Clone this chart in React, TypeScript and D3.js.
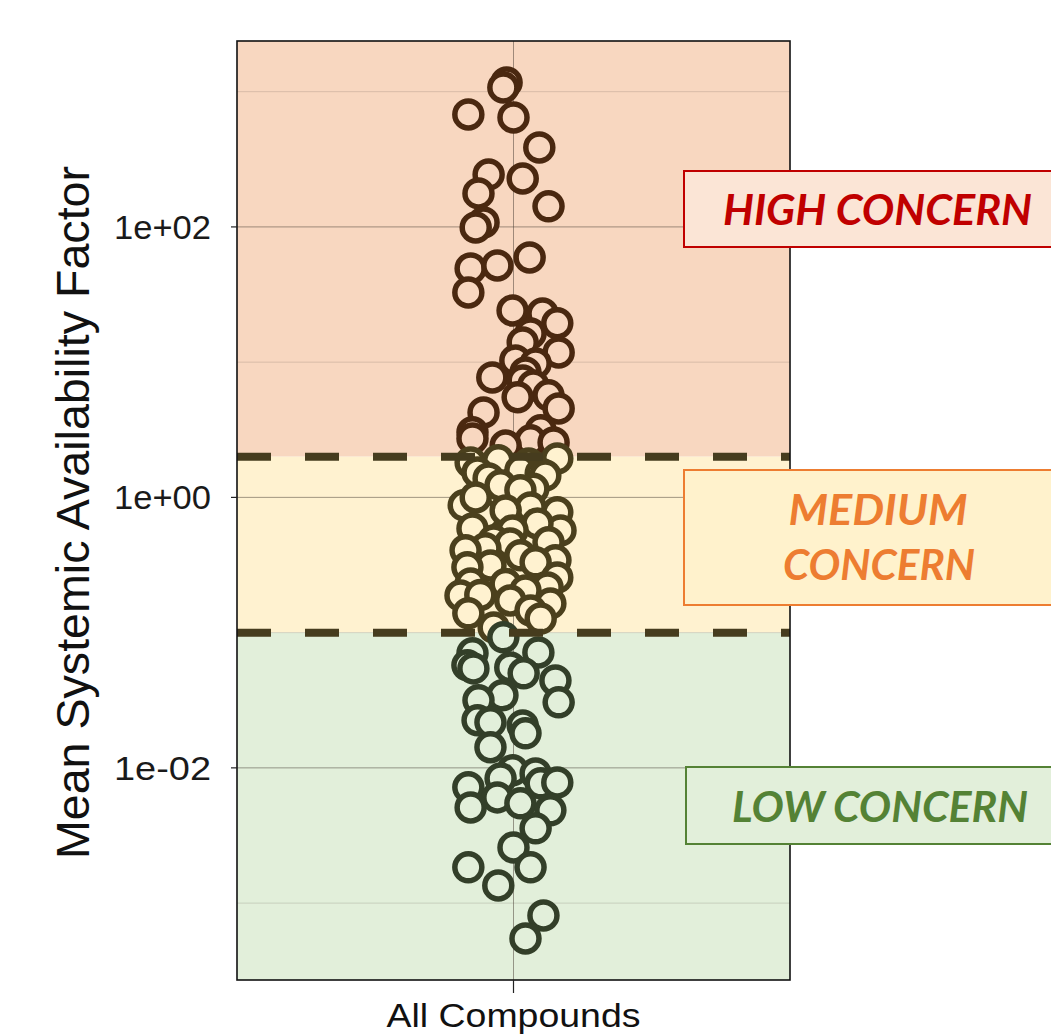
import React from 'react';
import * as d3 from 'd3';

// ---- data ----
const category = 'All Compounds';
const yTickValues = [1e-2, 1, 1e2];
const yTickLabels = ['1e-02', '1e+00', '1e+02'];
const yMinorValues = [1e-3, 1e-1, 1e1, 1e3];
const yDomain = [2.7e-4, 2370];
const thresholds = [0.1, 2];
const zoneLabels = ['HIGH CONCERN', 'MEDIUM CONCERN', 'LOW CONCERN'];

const pointValues = [
  // high
  1170, 1075, 679, 645, 387, 244, 228, 177, 142, 108, 99.1, 49.3, 51.9, 59.5, 32.8, 24.1, 22.9, 19.4,
  16.3, 14.0, 11.8, 10.3, 9.79, 8.4, 7.71, 7.33, 6.73, 5.68, 5.5, 4.55, 4.25, 3.03, 3.13, 2.64, 2.73,
  2.55, 2.42,
  // medium
  1.81, 1.88, 1.94, 1.78, 1.58, 1.53, 1.5, 1.45, 1.38, 1.23, 1.16, 1.13, 0.873, 0.736, 1.0, 0.843, 0.801,
  0.775, 0.57, 0.642, 0.59, 0.57, 0.481, 0.465, 0.457, 0.42, 0.406, 0.373, 0.343, 0.331, 0.314, 0.304,
  0.256, 0.231, 0.229, 0.216, 0.205, 0.188, 0.19, 0.173, 0.164, 0.146, 0.139, 0.127, 0.109,
  // low
  0.0923, 0.0703, 0.0714, 0.0573, 0.0544, 0.0553, 0.05, 0.0443, 0.0344, 0.0316, 0.0305, 0.0225, 0.0217,
  0.0206, 0.018, 0.0142, 0.00959, 0.0091, 0.00836, 0.00768, 0.0078, 0.00718, 0.00605, 0.00547, 0.0051,
  0.00485, 0.00357, 0.00258, 0.00184, 0.00184, 0.00135, 0.00081, 0.000548,
];
const pointJitter = [
  // high
  -0.015, -0.022, -0.098, 0.0, 0.056, -0.054, 0.02, -0.076, 0.076, -0.065, -0.082, -0.093, -0.035, 0.035,
  -0.098, -0.002, 0.063, 0.095, 0.037, 0.02, 0.098, 0.004, 0.048, 0.026, -0.046, 0.02, 0.043, 0.076,
  0.009, 0.098, -0.065, -0.089, 0.059, 0.037, -0.089, 0.087, -0.017,
  // medium
  -0.093, -0.033, 0.095, 0.033, 0.015, -0.078, 0.059, 0.069, -0.054, -0.028, 0.043, 0.015, -0.108, -0.061,
  -0.082, 0.037, -0.017, 0.095, 0.102, 0.052, -0.089, -0.002, -0.043, 0.076, -0.007, -0.061, -0.104, 0.015,
  0.091, 0.048, -0.05, -0.1, 0.095, -0.093, -0.017, 0.074, 0.026, -0.115, -0.072, -0.007, 0.08, 0.037,
  -0.098, 0.059, -0.043,
  // low
  -0.022, -0.089, 0.054, -0.1, -0.087, -0.007, 0.022, 0.091, -0.024, -0.076, 0.098, -0.078, -0.05, 0.02,
  0.026, -0.05, -0.002, 0.048, -0.028, 0.059, 0.095, -0.098, -0.035, 0.015, -0.093, 0.08, 0.048, 0.0,
  0.037, -0.098, -0.033, 0.065, 0.026,
];

// ---- styles ----
const zoneFill = { high: '#f8d7c0', medium: '#fff2d0', low: '#e2efda' };
const zoneStroke = { high: '#4a2810', medium: '#4b401d', low: '#333f29' };
const boxStyle = {
  high: { fill: '#fbe5d6', stroke: '#c00000' },
  medium: { fill: '#fff2cc', stroke: '#ed7d31' },
  low: { fill: '#e2efda', stroke: '#548235' },
};

const W = 1051;
const H = 1034;
const M = { left: 237, right: 790, top: 41, bottom: 980 };

function zoneOf(v: number) {
  if (v > thresholds[1]) return 'high';
  if (v >= thresholds[0]) return 'medium';
  return 'low';
}

export default function App() {
  const y = d3.scaleLog().domain(yDomain).range([M.bottom, M.top]);
  const x = d3.scaleLinear().domain([-0.6, 0.6]).range([M.left, M.right]);
  const cx0 = x(0);
  const yHi = y(thresholds[1]);
  const yLo = y(thresholds[0]);
  const pw = M.right - M.left;
  const labelFont = 'Lato, "Open Sans", sans-serif';
  const axisFont = '"Liberation Sans", Arial, sans-serif';

  return (
    <svg width={W} height={H} style={{ position: 'absolute', left: 0, top: 0, background: '#fff' }}>
      {/* zones */}
      <rect x={M.left} y={M.top} width={pw} height={yHi - M.top} fill={zoneFill.high} />
      <rect x={M.left} y={yHi} width={pw} height={yLo - yHi} fill={zoneFill.medium} />
      <rect x={M.left} y={yLo} width={pw} height={M.bottom - yLo} fill={zoneFill.low} />
      {/* grid */}
      {yMinorValues.map((v) => (
        <line key={'mi' + v} x1={M.left} x2={M.right} y1={y(v)} y2={y(v)} stroke="rgba(70,60,50,0.22)" strokeWidth={0.8} />
      ))}
      {yTickValues.map((v) => (
        <line key={'ma' + v} x1={M.left} x2={M.right} y1={y(v)} y2={y(v)} stroke="rgba(70,60,50,0.5)" strokeWidth={1} />
      ))}
      <line x1={cx0} x2={cx0} y1={M.top} y2={M.bottom} stroke="rgba(70,60,50,0.5)" strokeWidth={1} />

      {/* points */}
      {pointValues.map((v, i) => {
        const z = zoneOf(v) as 'high' | 'medium' | 'low';
        return (
          <circle
            key={i}
            cx={x(pointJitter[i])}
            cy={y(v)}
            r={13.5}
            fill={zoneFill[z]}
            stroke={zoneStroke[z]}
            strokeWidth={5.5}
          />
        );
      })}

      {/* threshold lines */}
      {thresholds.map((t) => (
        <line key={'t' + t} x1={M.left} x2={M.right} y1={y(t)} y2={y(t)} stroke="#463c1e" strokeWidth={8} strokeDasharray="34 34" />
      ))}

      {/* panel border */}
      <rect x={M.left} y={M.top} width={pw} height={M.bottom - M.top} fill="none" stroke="#111" strokeWidth={1.6} />

      {/* y axis ticks and labels */}
      {yTickValues.map((v, i) => (
        <g key={'yt' + v}>
          <line x1={M.left - 6} x2={M.left} y1={y(v)} y2={y(v)} stroke="#222" strokeWidth={1.2} />
          <text x={211} y={y(v)} dy="0.36em" textAnchor="end" fontFamily={axisFont} fontSize={33} fill="#1a1a1a" textLength={97} lengthAdjust="spacingAndGlyphs">
            {yTickLabels[i]}
          </text>
        </g>
      ))}
      {/* x tick */}
      <line x1={cx0} x2={cx0} y1={M.bottom} y2={M.bottom + 13} stroke="#222" strokeWidth={1.2} />
      <text x={cx0} y={1027} textAnchor="middle" fontFamily={axisFont} fontSize={34} fill="#111" textLength={254} lengthAdjust="spacingAndGlyphs">
        {category}
      </text>
      {/* y title */}
      <text
        transform={`translate(89, ${(M.top + M.bottom) / 2 + 2}) rotate(-90)`}
        textAnchor="middle"
        fontFamily={axisFont}
        fontSize={47}
        fill="#111"
        textLength={693}
        lengthAdjust="spacingAndGlyphs"
      >
        Mean Systemic Availability Factor
      </text>

      {/* label boxes */}
      <rect x={684} y={171} width={420} height={76} fill={boxStyle.high.fill} stroke={boxStyle.high.stroke} strokeWidth={2} />
      <text x={877.5} y={225} textAnchor="middle" fontFamily={labelFont} fontWeight={700} fontStyle="italic" fontSize={42} fill={boxStyle.high.stroke} textLength={309} lengthAdjust="spacingAndGlyphs">
        {zoneLabels[0]}
      </text>

      <rect x={684} y={470} width={420} height={135} fill={boxStyle.medium.fill} stroke={boxStyle.medium.stroke} strokeWidth={2} />
      <text x={878} y={525} textAnchor="middle" fontFamily={labelFont} fontWeight={700} fontStyle="italic" fontSize={42} fill={boxStyle.medium.stroke} textLength={179} lengthAdjust="spacingAndGlyphs">
        {zoneLabels[1].split(' ')[0]}
      </text>
      <text x={879} y={580} textAnchor="middle" fontFamily={labelFont} fontWeight={700} fontStyle="italic" fontSize={42} fill={boxStyle.medium.stroke} textLength={192} lengthAdjust="spacingAndGlyphs">
        {zoneLabels[1].split(' ')[1]}
      </text>

      <rect x={686} y={767} width={420} height={77} fill={boxStyle.low.fill} stroke={boxStyle.low.stroke} strokeWidth={2} />
      <text x={880} y={822} textAnchor="middle" fontFamily={labelFont} fontWeight={700} fontStyle="italic" fontSize={42} fill={boxStyle.low.stroke} textLength={296} lengthAdjust="spacingAndGlyphs">
        {zoneLabels[2]}
      </text>
    </svg>
  );
}
